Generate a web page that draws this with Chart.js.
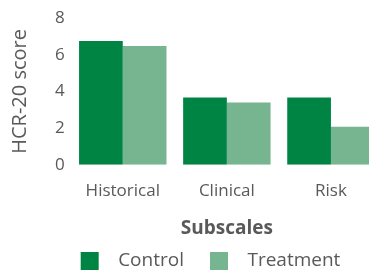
<!DOCTYPE html>
<html>
<head>
<meta charset="utf-8">
<script src="https://cdn.jsdelivr.net/npm/chart.js@4"></script>
<style>
  html, body { margin: 0; padding: 0; background: #fff; overflow: hidden; }
</style>
</head>
<body>
<canvas id="chart" width="420" height="272"></canvas>
<script>
const subscales = ['Historical', 'Clinical', 'Risk'];
const control = [6.75, 3.67, 3.67];
const treatment = [6.47, 3.4, 2.08];
const yTicks = [0, 2, 4, 6, 8];

const grey = '#595959';
const font = "'Open Sans', 'Noto Sans', sans-serif";
const colors = ['#008444', '#77B490'];

// legend swatch: 18px square with blank space both sides (item gap + gap before text)
function swatch(color) {
    const c = document.createElement('canvas');
    c.width = 44; c.height = 18;
    const g = c.getContext('2d');
    g.fillStyle = color;
    g.fillRect(16, 0, 18, 18);
    return c;
}
const swatches = colors.map(swatch);

// the legend sits a bit right of centre in the original
const legendShift = {
    id: 'legendShift',
    afterLayout(chart) {
        chart.legend.left += 7;
        chart.legend.right += 7;
    }
};

new Chart(document.getElementById('chart'), {
    type: 'bar',
    data: {
        labels: subscales,
        datasets: [
            { label: 'Control', data: control, backgroundColor: colors[0] },
            { label: 'Treatment', data: treatment, backgroundColor: colors[1] }
        ]
    },
    options: {
        responsive: false,
        animation: false,
        devicePixelRatio: 1,
        layout: { padding: { left: 8, right: 37, top: 18, bottom: -8 } },
        datasets: { bar: { categoryPercentage: 0.84, barPercentage: 1.0 } },
        scales: {
            x: {
                grid: { display: false, drawTicks: false },
                border: { display: false },
                ticks: { color: grey, font: { family: font, size: 17 }, padding: 16 },
                title: {
                    display: true, text: 'Subscales', color: grey,
                    font: { family: font, size: 19, weight: 'bold' }, padding: { top: 0, bottom: 1 }
                }
            },
            y: {
                min: 0, max: 8,
                grid: { display: false, drawTicks: false },
                border: { display: false },
                afterBuildTicks: axis => { axis.ticks = yTicks.map(v => ({ value: v })); },
                ticks: { color: grey, font: { family: font, size: 17 }, padding: 6 },
                title: {
                    display: true, text: 'HCR-20 score', color: grey,
                    font: { family: font, size: 20 }, padding: { top: 0, bottom: 17 }
                }
            }
        },
        plugins: {
            legend: {
                position: 'bottom',
                labels: {
                    color: grey, font: { family: font, size: 19 },
                    usePointStyle: true, pointStyleWidth: 44,
                    boxWidth: 44, boxHeight: 18, padding: 10,
                    generateLabels: chart => Chart.defaults.plugins.legend.labels.generateLabels(chart)
                        .map((item, i) => ({ ...item, pointStyle: swatches[i] }))
                }
            },
            tooltip: { enabled: false }
        }
    },
    plugins: [legendShift]
});
</script>
</body>
</html>
